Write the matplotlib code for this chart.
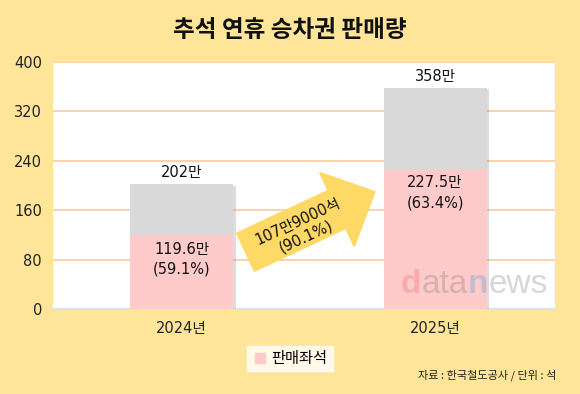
import matplotlib
matplotlib.use("Agg")
import matplotlib.pyplot as plt
import matplotlib.patches as mpatches
import matplotlib.patheffects as pe
from matplotlib.lines import Line2D

plt.rcParams['font.family'] = ['DejaVu Sans', 'Noto Sans CJK KR']

# ---- data ----
years = ["2024년", "2025년"]
total_seats = [202, 358]          # 만 석
sold_seats = [119.6, 227.5]       # 만 석
sold_pct = [59.1, 63.4]
increase_label = "107만9000석\n(90.1%)"
yticks = [0, 80, 160, 240, 320, 400]
title = "추석 연휴 승차권 판매량"
legend_label = "판매좌석"
source = "자료 : 한국철도공사 / 단위 : 석"

BG = "#FFE599"
PINK = "#FFCACA"
GRAY = "#D9D9D9"
GRID = "#F9CB9C"
ARROW = "#FFD966"
FS = 10.5

W, H = 580, 394
fig = plt.figure(figsize=(W / 100, H / 100), dpi=100)
fig.patch.set_facecolor(BG)

ax = fig.add_axes([53 / W, 1 - 309 / H, 502 / W, 247 / H])
ax.set_facecolor("white")

x = list(range(len(years)))
bw = 0.406
shadow = [pe.SimplePatchShadow(offset=(2, -1), shadow_rgbFace="#909090", alpha=0.3), pe.Normal()]
tot_bars = ax.bar(x, total_seats, width=bw, color=GRAY, zorder=3)
for b in tot_bars:
    b.set_path_effects(shadow)
ax.bar(x, sold_seats, width=bw, color=PINK, zorder=4)

ax.set_xlim(-0.507, 1.473)
ax.set_ylim(0, 400)
ax.set_yticks(yticks)
ax.set_xticks(x)
ax.set_xticklabels(years)
ax.tick_params(axis="both", length=0, labelsize=FS, colors="#222222")
ax.tick_params(axis="y", pad=8)
ax.tick_params(axis="x", pad=9)
ax.yaxis.grid(True, color=GRID, linewidth=1.2, zorder=0)
ax.set_axisbelow(True)
for s in ["top", "right", "left"]:
    ax.spines[s].set_visible(False)
ax.spines["bottom"].set_color("#DDE1EA")
ax.spines["bottom"].set_linewidth(1.5)

# labels
for xi, t, s, p in zip(x, total_seats, sold_seats, sold_pct):
    ax.annotate(f"{t}만", (xi, t), xytext=(0, 3), textcoords="offset points",
                ha="center", va="bottom", fontsize=FS, color="#111111", zorder=6)
    ax.annotate(f"{s}만\n({p}%)", (xi, s), xytext=(0, -5), textcoords="offset points",
                ha="center", va="top", fontsize=FS, color="#111111",
                linespacing=1.4, zorder=6)

# arrow (in inches, so the angle is true)
arr = mpatches.FancyArrow(2.455, 1.418, 1.295, 0.605, width=0.42, head_width=0.82,
                          head_length=0.42, length_includes_head=True,
                          color=ARROW, transform=fig.dpi_scale_trans, zorder=5)
fig.add_artist(arr)
fig.text(302 / W, 1 - 229 / H, increase_label, rotation=25, rotation_mode="anchor",
         ha="center", va="center", fontsize=FS, color="#111111", linespacing=1.2,
         zorder=6)

# watermark
def px(xp, yp):
    return xp / W, 1 - yp / H
base = 293
fig.text(*px(401, base), "d", fontsize=24, fontweight="bold", color="#E84040", alpha=0.22,
         family="Liberation Sans", va="baseline", zorder=7)
fig.text(*px(422, base), "ata", fontsize=24, color="#707070", alpha=0.28,
         family="Liberation Sans", va="baseline", zorder=7)
fig.text(*px(468, base), "n", fontsize=24, fontweight="bold", color="#3399DD", alpha=0.28,
         family="Liberation Sans", va="baseline", zorder=7)
fig.text(*px(489, base), "ews", fontsize=24, color="#707070", alpha=0.28,
         family="Liberation Sans", va="baseline", zorder=7)

# title
fig.text(0.5, 1 - 30 / H, title, ha="center", va="center", fontsize=17,
         fontweight="black", color="#111111", family="Noto Sans CJK KR")

# legend
handle = Line2D([], [], marker="s", linestyle="none", markersize=7,
                markerfacecolor=PINK, markeredgecolor=PINK)
leg = fig.legend([handle], [legend_label], loc="center",
                 bbox_to_anchor=(290 / W, 1 - 358.5 / H), frameon=True, fancybox=False,
                 fontsize=11, handletextpad=0.2, borderpad=0.35, handlelength=1.0)
leg.get_frame().set_facecolor("white")
leg.get_frame().set_edgecolor("white")

# source
fig.text(556 / W, 1 - 375 / H, source, ha="right", va="center", fontsize=8,
         color="#222222", family="Noto Sans CJK KR")

fig.savefig("out.png", dpi=100, facecolor=BG)
